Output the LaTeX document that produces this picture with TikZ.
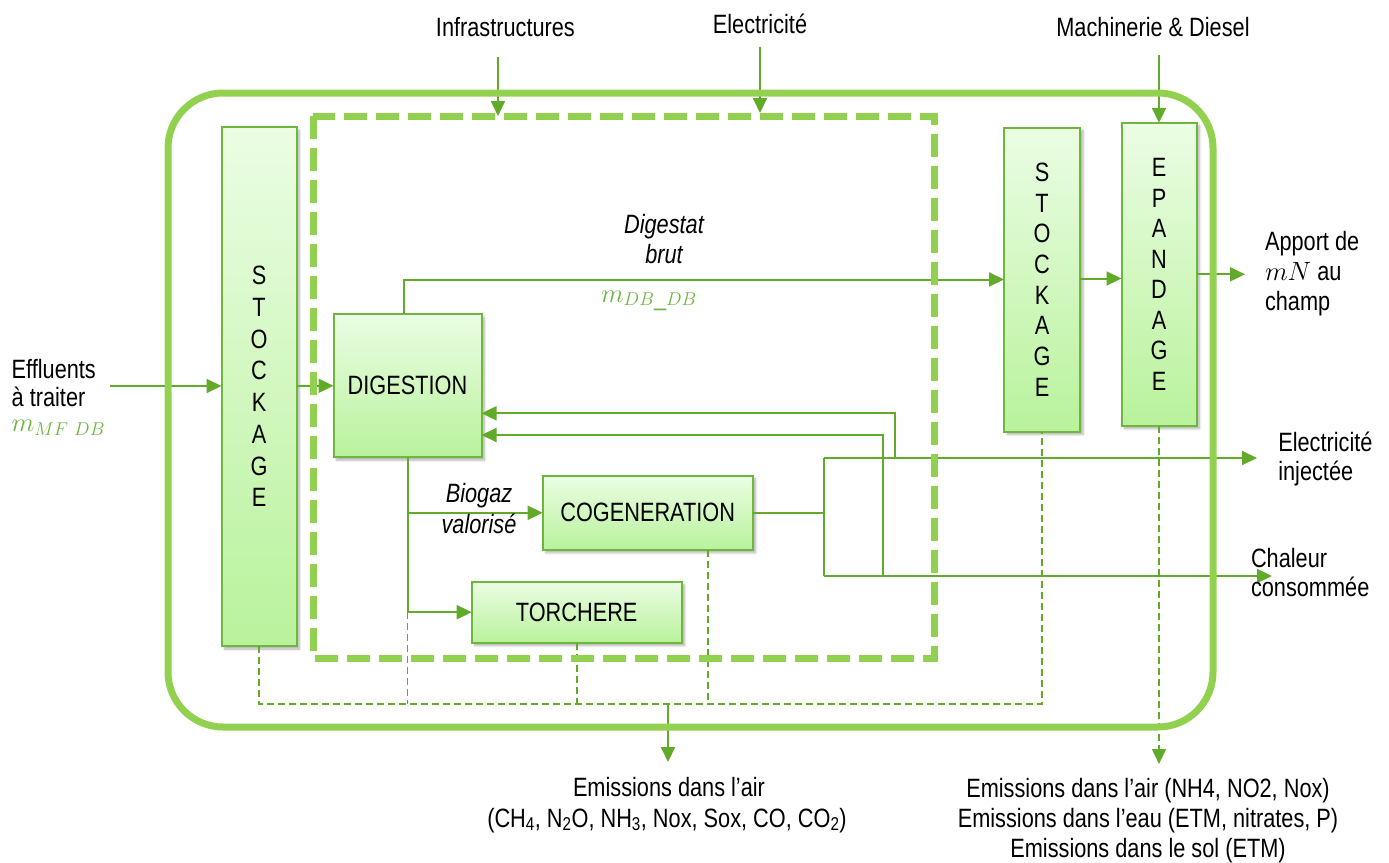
\RequirePackage{fix-cm}
\documentclass[tikz,border=0pt]{standalone}
\usepackage[no-math]{fontspec}
\setmainfont{Liberation Sans}[FakeStretch=0.82]
\usetikzlibrary{arrows.meta,shadows.blur}
\definecolor{framegreen}{HTML}{92D050}
\definecolor{conncol}{HTML}{62AA2A}
\definecolor{boxline}{HTML}{6DB83C}
\definecolor{boxtop}{HTML}{EBFDE4}
\definecolor{boxbot}{HTML}{B9F29C}
\definecolor{mathgreen}{HTML}{6DB33F}
\begin{document}
\begin{tikzpicture}[x=1pt,y=-1pt,
  every node/.style={font=\fontsize{26.5}{31}\selectfont, inner sep=0pt, outer sep=0pt},
  procbox/.style={draw=boxline, line width=2pt, top color=boxtop, bottom color=boxbot,
    blur shadow={shadow xshift=3pt, shadow yshift=-3pt, shadow blur steps=6, shadow opacity=30},
    align=center},
  conn/.style={draw=conncol, line width=2pt, -{Triangle[length=15pt,width=14pt]}},
  plain/.style={draw=conncol, line width=2pt},
  emis/.style={draw=conncol, line width=1.6pt, dash pattern=on 7pt off 4pt},
  lbl/.style={anchor=base west},
  ctr/.style={anchor=base},
  ital/.style={anchor=base, font=\fontsize{26.5}{31}\selectfont\itshape},
]
\useasboundingbox (0,0) rectangle (1389,862);

% ---------- coordinates ----------
\coordinate (effIn) at (110,386);
\coordinate (infraTop) at (498,57);
\coordinate (infraEnd) at (498,116);
\coordinate (elecTop) at (760,47);
\coordinate (elecEnd) at (760,113);
\coordinate (machTop) at (1159,55);
\coordinate (apport) at (1245,274.3);
\coordinate (splitTop) at (824,458);
\coordinate (splitBot) at (824,576);
\coordinate (elecOut) at (1257,458);
\coordinate (chalOut) at (1272,576);
\coordinate (fbA) at (895,458);
\coordinate (fbB) at (883,576);
\coordinate (emJ) at (668,704);
\coordinate (emOut) at (668,762);
\coordinate (epOut) at (1159,764);

% ---------- boxes ----------
\node[procbox, minimum width=75pt, minimum height=519pt, font=\fontsize{26.5}{31.7}\selectfont] (stockL) at (259,386.5) {S\\T\\O\\C\\K\\A\\G\\E};
\node[procbox, minimum width=148pt, minimum height=143pt] (dig) at (407.5,385.8) {DIGESTION};
\node[procbox, minimum width=210pt, minimum height=74pt] (cogen) at (647.7,512.8) {COGENERATION};
\node[procbox, minimum width=210pt, minimum height=61pt] (torch) at (576.7,612.2) {TORCHERE};
\node[procbox, minimum width=76pt, minimum height=304pt, font=\fontsize{26.5}{30.7}\selectfont] (stockR) at (1042,279.5) {S\\T\\O\\C\\K\\A\\G\\E};
\node[procbox, minimum width=75pt, minimum height=303pt, font=\fontsize{26.5}{30.5}\selectfont] (epand) at (1159,274.3) {E\\P\\A\\N\\D\\A\\G\\E};

% ---------- connectors ----------
\draw[conn] (effIn) -- (effIn -| stockL.west);
\draw[conn] (stockL.east |- dig.west) -- (dig.west);
\draw[conn] ([xshift=-3.5pt]dig.north) |- (stockR.west);
\draw[conn] (stockR.east |- 0,278.5) -- (epand.west |- 0,278.5);
\draw[conn] (epand.east) -- (apport);
\draw[conn] (infraTop) -- (infraEnd);
\draw[conn] (elecTop) -- (elecEnd);
\draw[conn] (machTop) -- (epand.north);

\draw[plain] (dig.south) -- (dig.south |- torch.west);
\draw[conn] (dig.south |- cogen.west) -- (cogen.west);
\draw[conn] (dig.south |- torch.west) -- (torch.west);

\draw[plain] (cogen.east) -- (cogen.east -| splitTop);
\draw[plain] (splitTop) -- (splitBot);
\draw[conn] (splitTop) -- (elecOut);
\draw[conn] (splitBot) -- (chalOut);
\draw[conn] (fbA) |- (dig.east |- 0,413.3);
\draw[conn] (fbB) |- (dig.east |- 0,435);

% ---------- emissions ----------
\draw[emis] (stockL.south) |- (stockR.south |- emJ) -- (stockR.south);
\draw[emis] (dig.south |- torch.west) -- (dig.south |- emJ);
\draw[emis] (torch.south) -- (torch.south |- emJ);
\draw[emis] ([xshift=60pt]cogen.south) -- ([xshift=60pt]cogen.south |- emJ);
\draw[conn] (emJ) -- (emOut);
\draw[conn, line width=1.6pt, dash pattern=on 7pt off 4pt] (epand.south) -- (epOut);

% ---------- frames ----------
\draw[draw=framegreen, line width=7pt, rounded corners=55pt] (168,93) rectangle (1213,727);
\draw[draw=framegreen, line width=7pt, dash pattern=on 23pt off 9pt] (313,116) rectangle (934,658);

% ---------- labels ----------
\node[ctr] (tInfra) at (505.4,36) {Infrastructures};
\node[ctr] (tElec) at (760,33) {Electricité};
\node[ctr] (tMach) at (1153,36.5) {Machinerie \& Diesel};

\node[ital] (tDig1) at (664,233) {Digestat};
\node[ital] (tDig2) at (664,263) {brut};
\node[ctr, text=mathgreen] (tmDB) at (649,302) {$m_{DB\_DB}$};

\node[lbl] (tEff1) at (11.7,378) {Effluents};
\node[lbl] (tEff2) at (11.7,406.7) {à traiter};
\node[lbl, text=mathgreen] (tEff3) at (11.7,431.7) {$m_{MF\ DB}$};

\node[ital] (tBio1) at (479,502.7) {Biogaz};
\node[ital] (tBio2) at (479,533) {valorisé};

\node[lbl] (tApp1) at (1265,250) {Apport de};
\node[lbl] (tApp2) at (1265,280) {$mN$ au};
\node[lbl] (tApp3) at (1265,310) {champ};

\node[lbl] (tEl1) at (1278.3,451.7) {Electricité};
\node[lbl] (tEl2) at (1278.3,480) {injectée};

\node[lbl] (tCh1) at (1251,567.3) {Chaleur};
\node[lbl] (tCh2) at (1251,596.7) {consommée};

\node[ctr] (tEm1) at (669,796) {Emissions dans l’air};
\node[ctr] (tEm2) at (667,827) {(CH\textsubscript{4}, N\textsubscript{2}O, NH\textsubscript{3}, Nox, Sox, CO, CO\textsubscript{2})};

\node[ctr] (tEr1) at (1148,797) {Emissions dans l’air (NH4, NO2, Nox)};
\node[ctr] (tEr2) at (1148,827) {Emissions dans l’eau (ETM, nitrates, P)};
\node[ctr] (tEr3) at (1148,857) {Emissions dans le sol (ETM)};
\end{tikzpicture}
\end{document}
